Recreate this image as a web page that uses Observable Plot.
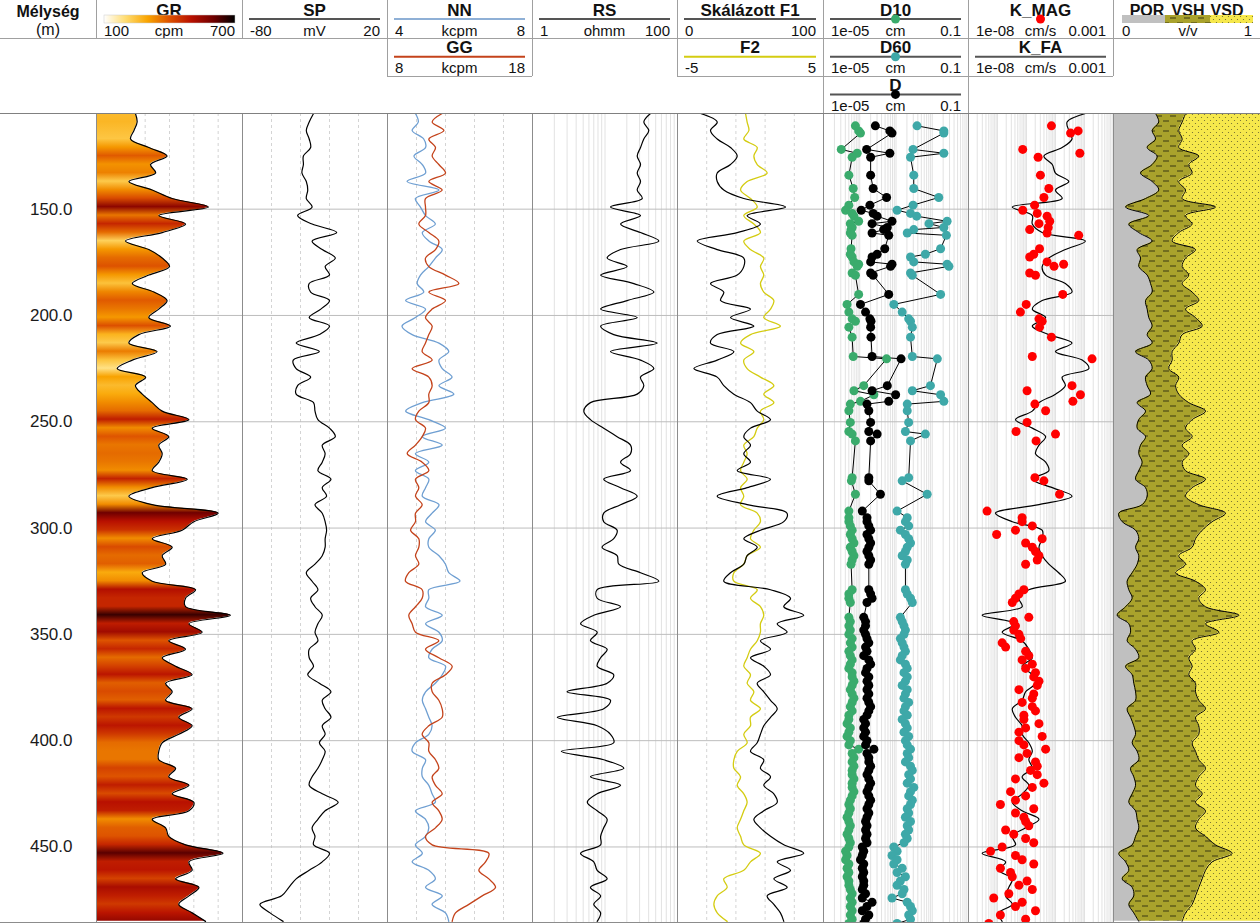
<!DOCTYPE html>
<html><head><meta charset="utf-8">
<script src="https://cdn.jsdelivr.net/npm/d3@7"></script>
<script src="https://cdn.jsdelivr.net/npm/@observablehq/plot@0.6"></script>
<style>
body{margin:0;background:#fff;}
#root{position:relative;width:1260px;height:923px;overflow:hidden;background:#fff;font-family:"Liberation Sans",Arial,sans-serif;}
</style></head><body><div id="root"></div>
<script>
// ---------- continuous logs, sampled every 4 m ----------
const depthM = [
105,109,113,117,121,125,129,133,137,141,145,149,
153,157,161,165,169,173,177,181,185,189,193,197,
201,205,209,213,217,221,225,229,233,237,241,245,
249,253,257,261,265,269,273,277,281,285,289,293,
297,301,305,309,313,317,321,325,329,333,337,341,
345,349,353,357,361,365,369,373,377,381,385,389,
393,397,401,405,409,413,417,421,425,429,433,437,
441,445,449,453,457,461,465,469,473,477,481,485];
const grCpm = [
260,267,254,240,315,390,322,343,233,329,411,560,
356,466,370,219,315,370,400,315,247,336,390,356,
315,404,274,233,349,247,185,302,260,288,329,370,
480,329,397,356,370,356,329,473,329,233,329,600,
500,452,329,411,370,384,288,329,507,466,466,650,
480,534,397,466,370,425,493,384,411,384,493,438,
493,438,370,356,356,425,397,480,411,500,480,329,
384,397,466,620,480,493,425,521,480,438,493,548];
const spMv = [
-31,-34,-36,-34,-33,-38,-38,-39,-36,-35,-36,-32,
-42,-32,-15,-32,-25,-16,-23,-20,-34,-33,-20,-26,
-34,-20,-27,-43,-27,-45,-43,-33,-42,-43,-31,-30,
-28,-20,-16,-25,-23,-25,-28,-19,-25,-22,-30,-25,
-23,-22,-23,-23,-25,-30,-36,-32,-28,-33,-30,-25,
-28,-30,-28,-34,-34,-31,-35,-27,-19,-25,-23,-19,
-25,-23,-27,-23,-25,-28,-32,-34,-25,-14,-23,-28,
-32,-30,-31,-20,-25,-34,-43,-48,-53,-68,-61,-52];
const nnKcpm = [
4.77,4.85,4.68,5.00,5.05,4.73,4.96,5.05,4.54,5.42,4.77,4.91,
5.05,5.32,4.96,5.14,5.51,5.32,5.14,4.91,4.82,5.00,4.50,5.05,
4.77,4.40,4.68,5.42,5.69,5.42,5.51,5.78,5.42,5.83,4.96,4.50,
5.14,5.60,4.96,5.51,4.77,5.14,4.77,5.14,5.05,4.96,5.42,5.23,
5.05,5.32,5.14,5.14,5.42,5.60,5.69,6.00,5.14,5.14,5.05,5.51,
5.05,5.42,5.51,5.23,5.14,5.60,5.51,5.32,5.05,4.96,5.05,5.14,
5.23,5.14,4.77,4.68,5.05,4.96,4.96,5.14,5.23,5.32,4.77,5.05,
5.14,5.05,4.77,4.96,4.68,5.14,5.32,5.05,5.51,5.23,5.60,5.69];
const ggKcpm = [
11.77,11.08,11.89,10.85,11.31,11.08,11.54,12.00,10.85,11.77,10.62,10.62,
10.62,10.16,10.85,11.54,11.31,10.62,10.85,12.00,12.92,10.85,12.00,11.08,
10.62,11.08,10.85,10.62,10.39,11.08,9.70,10.85,11.08,10.85,10.85,10.16,
9.93,10.62,10.39,9.93,9.36,10.39,10.85,9.93,10.16,9.93,10.39,9.93,
9.93,9.59,10.16,10.16,9.93,10.16,9.47,9.24,10.39,10.39,9.93,9.47,
9.70,9.93,11.54,10.62,11.54,12.46,12.00,11.08,11.08,11.54,11.77,11.77,
10.85,10.39,10.85,10.85,11.31,11.54,11.08,11.31,11.77,11.08,11.54,11.77,
11.31,10.62,11.08,14.99,14.76,14.30,14.99,15.45,14.53,13.61,12.69,12.46];
const rsOhmm = [
42.4,34.3,40.2,34.3,30.9,27.8,30.9,27.8,30.9,27.8,32.6,11.9,
30.9,16.4,30.9,55.3,16.4,10.7,20.2,8.7,25.0,47.2,20.2,8.7,
27.8,8.7,13.2,52.5,11.9,30.9,47.2,30.9,34.3,27.8,6.3,5.1,
6.3,9.6,14.7,22.5,22.5,16.4,22.5,9.6,16.4,27.8,16.4,9.6,
9.6,14.7,13.2,9.1,14.7,15.5,30.9,55.3,7.8,7.8,16.4,7.0,
4.6,7.8,6.3,10.7,8.7,7.8,13.2,10.7,3.0,11.9,9.6,2.2,
7.8,11.9,13.2,2.5,9.6,18.2,6.3,16.4,7.8,5.7,7.8,10.7,
9.6,8.7,8.7,4.6,7.0,7.8,10.7,6.3,8.7,7.0,8.7,7.8];
const f1Scaled = [
15.8,27.2,22.6,27.2,36.3,40.9,36.3,27.2,27.2,31.7,45.4,74.0,
47.7,56.8,40.9,13.5,27.2,45.4,45.4,40.9,22.6,31.7,29.5,50.0,
36.3,52.3,27.2,22.6,38.6,27.2,11.2,27.2,31.7,38.6,50.0,54.6,
63.7,50.0,45.4,50.0,45.4,50.0,40.9,63.7,47.7,27.2,47.7,75.0,
72.8,56.8,45.4,54.6,47.7,45.4,36.3,31.7,63.7,77.4,72.8,86.5,
68.3,75.1,56.8,63.7,50.0,59.1,63.7,54.6,59.1,63.7,68.3,63.7,
59.1,56.8,54.6,50.0,59.1,56.8,63.7,59.1,66.0,68.3,59.1,52.3,
56.8,63.7,72.8,86.5,68.3,77.4,66.0,75.1,61.4,66.0,70.5,72.8];
const f2Val = [
-0.34,-0.23,-0.11,-0.46,0.46,0.23,0.46,1.14,-0.23,-0.68,0.00,0.46,
-0.46,0.23,0.68,-0.46,0.00,0.91,0.68,0.91,0.68,0.91,1.60,1.37,
0.91,2.05,0.00,-0.68,0.23,-0.46,-0.23,0.68,1.60,0.91,1.60,0.68,
0.91,0.46,0.23,-0.46,-0.23,-0.46,-0.68,-0.23,-0.68,-0.46,-0.68,0.46,
0.68,0.23,0.00,0.68,-0.23,-0.46,-1.14,-1.14,0.46,0.00,0.68,0.91,
0.68,0.68,0.46,0.00,-0.23,-0.46,0.00,-0.23,0.23,0.00,0.68,0.00,
0.00,-0.46,-0.23,-0.91,-1.14,-1.14,-0.68,-0.91,-0.46,-0.23,-0.46,-0.68,
-0.91,-0.68,-0.46,0.68,0.00,-0.46,-1.83,-1.60,-2.28,-2.51,-2.28,-1.60];
// K_FA as log10(cm/s)
const kfaLog10 = [
-3.97,-4.60,-4.54,-4.43,-4.77,-5.40,-5.11,-5.00,-4.54,-5.00,-4.77,-6.49,
-5.80,-5.80,-5.46,-3.97,-4.66,-5.23,-5.46,-5.34,-4.66,-4.43,-5.46,-5.80,
-5.34,-5.80,-5.23,-4.43,-5.00,-4.08,-3.85,-4.77,-4.66,-5.00,-5.57,-5.80,
-6.38,-5.80,-5.34,-5.57,-5.69,-5.34,-5.23,-5.80,-5.11,-4.43,-5.57,-7.07,
-6.49,-5.46,-5.46,-5.57,-5.46,-5.23,-4.89,-4.66,-5.92,-6.26,-6.15,-7.53,
-6.38,-6.84,-6.15,-5.92,-5.80,-6.15,-5.80,-5.69,-6.03,-6.15,-6.49,-6.38,
-6.15,-6.15,-5.92,-5.80,-5.92,-5.80,-6.15,-5.92,-6.15,-6.49,-6.15,-5.57,
-6.03,-6.49,-6.38,-7.53,-6.72,-6.95,-6.49,-6.61,-6.72,-6.49,-6.95,-6.84];
const porVv = [
0.286,0.308,0.263,0.286,0.229,0.297,0.263,0.184,0.263,0.308,0.218,0.082,
0.240,0.104,0.172,0.263,0.161,0.184,0.172,0.229,0.252,0.263,0.218,0.229,
0.240,0.263,0.229,0.263,0.150,0.240,0.263,0.218,0.229,0.252,0.161,0.218,
0.172,0.161,0.218,0.184,0.172,0.195,0.172,0.150,0.218,0.229,0.195,0.036,
0.059,0.150,0.172,0.150,0.172,0.161,0.127,0.093,0.104,0.127,0.082,0.025,
0.104,0.116,0.093,0.150,0.172,0.082,0.127,0.138,0.150,0.150,0.093,0.116,
0.138,0.150,0.127,0.161,0.172,0.116,0.138,0.150,0.127,0.104,0.150,0.161,
0.172,0.150,0.127,0.036,0.082,0.104,0.059,0.127,0.138,0.104,0.138,0.172];
const vshVv = [
0.204,0.159,0.181,0.181,0.215,0.283,0.249,0.351,0.181,0.182,0.249,0.612,
0.250,0.431,0.272,0.136,0.397,0.306,0.295,0.283,0.215,0.272,0.362,0.261,
0.318,0.340,0.238,0.181,0.249,0.159,0.113,0.226,0.193,0.192,0.351,0.408,
0.363,0.329,0.317,0.283,0.340,0.272,0.318,0.476,0.317,0.261,0.385,0.726,
0.612,0.453,0.386,0.385,0.272,0.329,0.295,0.465,0.522,0.453,0.544,0.828,
0.522,0.601,0.442,0.408,0.340,0.453,0.385,0.420,0.408,0.430,0.533,0.442,
0.442,0.430,0.408,0.397,0.408,0.510,0.442,0.408,0.476,0.454,0.476,0.419,
0.386,0.476,0.567,0.771,0.589,0.522,0.544,0.453,0.420,0.431,0.352,0.295];

// ---------- core samples (grain size & K_MAG) ----------
const sampleDepth = [
110.8,113.2,114.2,121.9,123.7,125.6,134.0,140.3,144.5,148.1,
150.5,152.0,153.3,155.7,156.8,158.6,159.6,161.2,162.3,168.6,
171.2,172.5,174.8,175.9,176.9,180.0,181.1,190.1,194.8,198.4,
201.6,202.7,205.5,210.2,219.3,220.4,233.0,235.4,237.3,240.4,
241.7,244.8,250.3,254.6,255.8,259.0,276.3,277.8,284.1,292.0,
295.1,
297,299,301,303,305,307,309,311,313,315,317,
329,331,333,335,
342,344,346,348,
350,352,354,356,358,360,362,364,366,368,
370,372,374,376,378,380,382,384,386,388,
390,392,394,396,398,400,402,404,406,408,
410,412,414,416,418,420,422,424,426,428,
430,432,434,436,438,440,442,444,446,448,
450,452,454,456,458,460,462,464,466,468,
470,472,474,476,478,480,482,484,486];
// log10(cm)
const d10Log10 = [
-4.12,-4.03,-3.98,-4.51,-4.07,-4.21,-4.30,-4.18,-4.14,-4.30,
-4.39,-4.21,-4.16,-4.03,-4.26,-4.21,-4.24,-4.26,-4.21,-4.24,
-4.26,-4.21,-4.16,-4.03,-4.07,-4.21,-4.12,-4.03,-4.35,-4.30,
-4.21,-4.12,-4.30,-4.21,-4.18,-3.26,-3.89,-4.16,-3.61,-3.98,
-4.26,-4.30,-4.26,-4.30,-4.21,-4.12,-4.21,-4.23,-4.12,-4.30,
-4.30,
-4.30,-4.26,-4.21,-4.26,-4.21,-4.16,-4.26,-4.21,-4.16,-4.21,-4.24,
-4.21,-4.30,-4.30,-4.26,
-4.30,-4.26,-4.30,-4.26,
-4.30,-4.21,-4.26,-4.21,-4.30,-4.26,-4.21,-4.26,-4.30,-4.21,
-4.21,-4.16,-4.21,-4.26,-4.21,-4.16,-4.21,-4.26,-4.21,-4.30,
-4.30,-4.35,-4.26,-4.30,-4.35,-4.26,-4.30,-4.03,-4.21,-4.16,
-4.21,-4.16,-4.21,-4.21,-4.16,-4.21,-4.21,-4.16,-4.21,-4.26,
-4.30,-4.26,-4.30,-4.35,-4.30,-4.26,-4.30,-4.35,-4.30,-4.26,
-4.30,-4.39,-4.35,-4.39,-4.30,-4.35,-4.30,-4.35,-4.30,-4.30,
-4.26,-4.21,-4.26,-4.21,-4.26,-4.21,-4.26,-4.21,-4.30];
const d60Log10 = [
-2.42,-1.68,-1.68,-2.53,-1.68,-2.60,-2.51,-2.51,-1.82,-2.53,
-2.97,-2.60,-2.43,-1.59,-2.09,-1.68,-2.51,-2.69,-1.61,-1.77,
-2.19,-2.60,-2.51,-1.59,-1.54,-2.60,-2.55,-1.77,-3.06,-2.83,
-2.65,-2.60,-2.55,-2.60,-2.55,-1.86,-2.05,-2.55,-1.77,-1.68,
-2.69,-2.69,-2.65,-2.74,-2.19,-2.60,-2.65,-2.83,-2.14,-2.97,
-2.69,
-2.74,-2.65,-2.88,-2.74,-2.65,-2.60,-2.69,-2.74,-2.83,-2.69,-2.74,
-2.74,-2.69,-2.60,-2.55,
-2.88,-2.83,-2.78,-2.74,
-2.78,-2.88,-2.83,-2.78,-2.74,-2.83,-2.88,-2.74,-2.69,-2.78,
-2.69,-2.74,-2.83,-2.69,-2.74,-2.78,-2.65,-2.74,-2.78,-2.69,
-2.83,-2.74,-2.69,-2.78,-2.65,-2.74,-2.69,-2.60,-2.69,-2.65,
-2.74,-2.60,-2.55,-2.65,-2.60,-2.69,-2.51,-2.60,-2.65,-2.55,
-2.60,-2.69,-2.65,-2.74,-2.60,-2.69,-2.65,-2.74,-2.69,-2.78,
-3.06,-2.97,-3.11,-2.97,-3.06,-2.83,-2.97,-2.74,-2.88,-2.97,
-2.78,-2.83,-3.11,-2.69,-2.60,-2.55,-2.65,-2.60,-2.97];
const dLog10 = [
-3.57,-3.17,-3.11,-3.81,-3.17,-3.70,-3.70,-3.63,-3.26,-3.72,
-3.96,-3.63,-3.52,-3.11,-3.66,-3.24,-3.34,-3.66,-3.20,-3.31,
-3.52,-3.66,-3.70,-3.11,-3.15,-3.70,-3.63,-3.20,-3.98,-3.84,
-3.72,-3.69,-3.70,-3.69,-3.66,-2.86,-3.24,-3.66,-3.01,-3.20,
-3.80,-3.75,-3.70,-3.75,-3.52,-3.70,-3.75,-3.75,-3.43,-3.93,
-3.80,
-3.80,-3.75,-3.70,-3.80,-3.75,-3.70,-3.75,-3.80,-3.75,-3.70,-3.75,
-3.75,-3.70,-3.66,-3.80,
-3.89,-3.84,-3.84,-3.89,
-3.84,-3.80,-3.75,-3.84,-3.80,-3.89,-3.75,-3.70,-3.80,-3.84,
-3.75,-3.80,-3.75,-3.80,-3.75,-3.80,-3.75,-3.70,-3.75,-3.80,
-3.89,-3.84,-3.89,-3.84,-3.89,-3.80,-3.84,-3.61,-3.80,-3.75,
-3.75,-3.70,-3.75,-3.80,-3.75,-3.70,-3.75,-3.80,-3.75,-3.70,
-3.75,-3.80,-3.75,-3.80,-3.84,-3.80,-3.84,-3.80,-3.84,-3.80,
-3.93,-3.89,-3.93,-3.98,-3.89,-3.93,-3.89,-3.93,-3.89,-3.89,
-3.93,-3.84,-3.93,-3.66,-3.80,-3.93,-3.75,-3.84,-3.89];
// log10(cm/s)
const kmagLog10 = [
-5.14,-4.22,-4.48,-6.13,-4.16,-5.60,-5.52,-5.23,-5.40,-5.72,
-6.13,-5.63,-5.29,-5.20,-5.57,-5.25,-5.89,-5.29,-4.20,-5.55,
-5.75,-5.89,-5.29,-4.72,-5.05,-5.89,-5.69,-4.75,-6.01,-6.21,
-5.57,-5.46,-5.55,-5.14,-5.80,-3.74,-4.43,-5.98,-4.14,-4.40,
-5.71,-5.34,-5.98,-6.36,-5.00,-5.67,-5.71,-5.40,-4.86,-7.36,
-6.15,
-6.15,-5.80,-6.38,-7.03,-5.46,-6.03,-5.80,-5.69,-5.57,-5.63,-6.03,
-6.09,-6.26,-6.38,-6.49,
-5.92,-6.44,-6.38,-6.44,
-6.26,-6.20,-6.84,-6.72,-6.03,-5.92,-6.15,-5.80,-6.03,-5.69,
-5.75,-5.57,-5.63,-6.26,-5.75,-5.80,-6.15,-5.80,-5.69,-6.09,
-6.09,-5.57,-6.03,-6.26,-5.46,-6.26,-6.09,-5.34,-5.98,-6.26,
-5.69,-5.63,-5.86,-5.63,-6.38,-5.40,-5.80,-6.55,-6.03,-6.38,
-6.90,-5.75,-6.38,-6.09,-6.03,-5.92,-6.72,-6.44,-6.03,-5.75,
-6.84,-7.24,-6.38,-6.15,-5.75,-6.90,-6.55,-6.49,-5.98,-6.26,
-5.80,-6.61,-7.13,-6.15,-6.38,-5.69,-6.90,-6.03,-7.30];

const depthTicks = [150, 200, 250, 300, 350, 400, 450];
const grStops = [100, 200, 300, 400, 500, 600, 700];
const grColors = ["#ffffff", "#ffdc70", "#f9a400", "#dd5200", "#b81000", "#700000", "#000000"];

// ---------- build tables ----------
const logs = depthM.map((d, i) => ({
  depth: d, gr: grCpm[i], sp: spMv[i], nn: nnKcpm[i], gg: ggKcpm[i], rs: rsOhmm[i],
  f1: f1Scaled[i], f2: f2Val[i], kfa: 10 ** kfaLog10[i],
  por: porVv[i], vsh: vshVv[i], shTop: porVv[i] + vshVv[i]
}));
const samples = sampleDepth.map((d, i) => ({
  depth: d, d10: 10 ** d10Log10[i], d60: 10 ** d60Log10[i], dd: 10 ** dLog10[i], kmag: 10 ** kmagLog10[i]
}));

const FONT = '"Liberation Sans", Arial, sans-serif';
const CURVE = "catmull-rom";
const root = document.getElementById("root");
const TOP = 113, H = 810;
const Y = {domain: [105, 486], range: [0, H], axis: null};
const grColor = d3.scaleLinear().domain(grStops).range(grColors).clamp(true);

function place(svg, left, width) {
  svg.style.position = "absolute";
  svg.style.left = left + "px";
  svg.style.top = TOP + "px";
  svg.style.width = width + "px";
  svg.style.height = H + "px";
  svg.style.maxWidth = "none";
  root.appendChild(svg);
  return svg;
}
function track(left, width, x, marks) {
  const svg = Plot.plot({
    width, height: H, margin: 0,
    x: {...x, axis: null}, y: Y,
    style: {background: "transparent", overflow: "hidden", fontFamily: FONT},
    marks
  });
  return place(svg, left, width);
}
const hgrid = () => Plot.ruleY(depthTicks, {stroke: "#bdbdbd", strokeWidth: 1});
const vgrid = (v) => Plot.ruleX(v, {stroke: "#d4d4d4", strokeDasharray: "3,3", strokeWidth: 1});
function logMinor(e0, e1) {
  const t = [];
  for (let e = e0; e < e1; e++) for (let k = 1; k < 10; k++) if (!(e === e0 && k === 1)) t.push(k * 10 ** e);
  return t;
}
const lgrid = (v) => Plot.ruleX(v, {stroke: "#e2e2e2", strokeWidth: 1});
function addDefs(svg, html) {
  const defs = document.createElementNS("http://www.w3.org/2000/svg", "defs");
  defs.innerHTML = html;
  svg.insertBefore(defs, svg.firstChild);
}
const patDefs = (p) => `
<pattern id="${p}vsh" patternUnits="userSpaceOnUse" width="14" height="10"><rect width="14" height="10" fill="#a9a22c"/><path d="M1 3h6M8 8h6" stroke="#3a3812" stroke-width="1"/></pattern>
<pattern id="${p}vsd" patternUnits="userSpaceOnUse" width="6" height="6"><rect width="6" height="6" fill="#f6e84c"/><circle cx="1.5" cy="1.5" r="0.6" fill="#6b6630"/><circle cx="4.5" cy="4.5" r="0.6" fill="#6b6630"/></pattern>`;

// ---------- depth labels ----------
place(Plot.plot({
  width: 96, height: H, margin: 0, y: Y,
  style: {background: "transparent", overflow: "visible", fontFamily: FONT},
  marks: [Plot.text(depthTicks, {y: d => d, text: d => d.toFixed(1), frameAnchor: "right", textAnchor: "end", dx: -24, fontSize: 17, fill: "#1a1a1a"})]
}), 0, 96);

// ---------- GR ----------
const grSvg = track(96, 146, {domain: [100, 700]}, [
  vgrid([200, 300, 400, 500, 600]), hgrid(),
  Plot.areaX(logs, {y: "depth", x1: () => 100, x2: "gr", fill: "#f0a001", curve: CURVE}),
  Plot.lineX(logs, {y: "depth", x: "gr", stroke: "#000", strokeWidth: 1.2, curve: CURVE})
]);
{
  const ys = grSvg.scale("y");
  const stops = logs.map(r => `<stop offset="${(ys.apply(r.depth) / H).toFixed(4)}" stop-color="${grColor(r.gr)}"/>`).join("");
  addDefs(grSvg, `<linearGradient id="grGrad" gradientUnits="userSpaceOnUse" x1="0" y1="0" x2="0" y2="${H}">${stops}</linearGradient>`);
  d3.select(grSvg).selectAll('[fill="#f0a001"]').attr("fill", "url(#grGrad)");
}

// ---------- SP ----------
track(242, 145, {domain: [-80, 20]}, [
  vgrid([-60, -40, -20, 0]), hgrid(),
  Plot.lineX(logs, {y: "depth", x: "sp", stroke: "#000", strokeWidth: 1.2, curve: CURVE})
]);

// ---------- NN / GG ----------
track(387, 145, {domain: [4, 8]}, [
  vgrid([4.8, 5.6, 6.4, 7.2]), hgrid(),
  Plot.lineX(logs, {y: "depth", x: "nn", stroke: "#6f9fd2", strokeWidth: 1.3, curve: CURVE})
]);
track(387, 145, {domain: [8, 18]}, [
  Plot.lineX(logs, {y: "depth", x: "gg", stroke: "#c4431b", strokeWidth: 1.3, curve: CURVE})
]);

// ---------- RS ----------
track(532, 145, {type: "log", domain: [1, 100]}, [
  lgrid(logMinor(0, 2)), hgrid(),
  Plot.lineX(logs, {y: "depth", x: "rs", stroke: "#000", strokeWidth: 1.2, curve: CURVE})
]);

// ---------- F1 / F2 ----------
track(677, 146, {domain: [-5, 5]}, [
  vgrid([-3, -1, 1, 3]), hgrid(),
  Plot.lineX(logs, {y: "depth", x: "f2", stroke: "#d4cc12", strokeWidth: 1.3, curve: CURVE})
]);
track(677, 146, {domain: [0, 100]}, [
  Plot.lineX(logs, {y: "depth", x: "f1", stroke: "#000", strokeWidth: 1.2, curve: CURVE})
]);

// ---------- D10 / D60 / D ----------
track(823, 145, {type: "log", domain: [1e-5, 0.1]}, [
  lgrid(logMinor(-5, -1)), hgrid(),
  Plot.line(samples, {y: "depth", x: "d10", stroke: "#000", strokeWidth: 1}),
  Plot.line(samples, {y: "depth", x: "dd", stroke: "#000", strokeWidth: 1}),
  Plot.line(samples, {y: "depth", x: "d60", stroke: "#000", strokeWidth: 1}),
  Plot.dot(samples, {y: "depth", x: "d10", fill: "#3aab6c", r: 4.5}),
  Plot.dot(samples, {y: "depth", x: "dd", fill: "#000", r: 4.5}),
  Plot.dot(samples, {y: "depth", x: "d60", fill: "#3ea8a8", r: 4.5})
]);

// ---------- K_MAG / K_FA ----------
track(968, 145, {type: "log", domain: [1e-8, 1e-3]}, [
  lgrid(logMinor(-8, -3)), hgrid(),
  Plot.lineX(logs, {y: "depth", x: "kfa", stroke: "#000", strokeWidth: 1.2, curve: CURVE}),
  Plot.dot(samples, {y: "depth", x: "kmag", fill: "#ff0000", r: 4.5})
]);

// ---------- POR / VSH / VSD ----------
const porSvg = track(1113, 147, {domain: [0, 1]}, [
  Plot.areaX(logs, {y: "depth", x1: () => 0, x2: "por", fill: "#c0c0c0", curve: CURVE}),
  Plot.areaX(logs, {y: "depth", x1: "por", x2: "shTop", fill: "#a9a22d", curve: CURVE}),
  Plot.areaX(logs, {y: "depth", x1: "shTop", x2: () => 1, fill: "#f6e84d", curve: CURVE}),
  Plot.lineX(logs, {y: "depth", x: "por", stroke: "#000", strokeWidth: 1, curve: CURVE}),
  Plot.lineX(logs, {y: "depth", x: "shTop", stroke: "#000", strokeWidth: 1, curve: CURVE})
]);
addDefs(porSvg, patDefs("t"));
d3.select(porSvg).selectAll('[fill="#a9a22d"]').attr("fill", "url(#tvsh)");
d3.select(porSvg).selectAll('[fill="#f6e84d"]').attr("fill", "url(#tvsd)");

// ---------- header ----------
const hdr = d3.select(root).append("svg").attr("width", 1260).attr("height", 124)
  .style("position", "absolute").style("left", "0px").style("top", "0px").style("font-family", FONT)
  .style("overflow", "visible");
addDefs(hdr.node(), patDefs("h") + `<linearGradient id="grBar" x1="0" x2="1" y1="0" y2="0">${
  grStops.map((v, i) => `<stop offset="${i / 6}" stop-color="${grColors[i]}"/>`).join("")}</linearGradient>`);
function txt(x, y, s, anchor = "middle", bold = false, size = 15) {
  hdr.append("text").attr("x", x).attr("y", y).attr("text-anchor", anchor).attr("dominant-baseline", "central")
    .attr("font-size", size).attr("font-weight", bold ? "bold" : "normal").attr("fill", "#111").text(s);
}
txt(48, 11, "Mélység", "middle", true, 16);
txt(48, 29, "(m)", "middle", false, 16);
const headers = [
  {x0: 96, x1: 242, row: 0, title: "GR", bar: true, l: "100", u: "cpm", r: "700"},
  {x0: 242, x1: 387, row: 0, title: "SP", line: "#555", l: "-80", u: "mV", r: "20"},
  {x0: 387, x1: 532, row: 0, title: "NN", line: "#8fb0d6", l: "4", u: "kcpm", r: "8"},
  {x0: 387, x1: 532, row: 1, title: "GG", line: "#c4431b", l: "8", u: "kcpm", r: "18"},
  {x0: 532, x1: 677, row: 0, title: "RS", line: "#555", l: "1", u: "ohmm", r: "100"},
  {x0: 677, x1: 823, row: 0, title: "Skálázott F1", line: "#555", l: "0", u: "", r: "100"},
  {x0: 677, x1: 823, row: 1, title: "F2", line: "#d4cc12", l: "-5", u: "", r: "5"},
  {x0: 823, x1: 968, row: 0, title: "D10", line: "#555", dot: "#3aab6c", l: "1e-05", u: "cm", r: "0.1"},
  {x0: 823, x1: 968, row: 1, title: "D60", line: "#555", dot: "#3ea8a8", l: "1e-05", u: "cm", r: "0.1"},
  {x0: 823, x1: 968, row: 2, title: "D", line: "#555", dot: "#000", l: "1e-05", u: "cm", r: "0.1"},
  {x0: 968, x1: 1113, row: 0, title: "K_MAG", dot: "#ff0000", l: "1e-08", u: "cm/s", r: "0.001"},
  {x0: 968, x1: 1113, row: 1, title: "K_FA", line: "#555", l: "1e-08", u: "cm/s", r: "0.001"}
];
for (const h of headers) {
  const oy = h.row * 37.7, cx = (h.x0 + h.x1) / 2;
  txt(cx, oy + 10, h.title, "middle", true, 17);
  if (h.bar) hdr.append("rect").attr("x", 104).attr("y", oy + 15).attr("width", 131).attr("height", 8).attr("fill", "url(#grBar)").attr("stroke", "#ccc").attr("stroke-width", 0.5);
  if (h.line) hdr.append("line").attr("x1", h.x0 + 7).attr("x2", h.x1 - 7).attr("y1", oy + 19).attr("y2", oy + 19).attr("stroke", h.line).attr("stroke-width", 2);
  if (h.dot) hdr.append("circle").attr("cx", cx).attr("cy", oy + 19).attr("r", 4.5).attr("fill", h.dot);
  txt(h.x0 + 8, oy + 30, h.l, "start");
  if (h.u) txt(cx, oy + 30, h.u, "middle");
  txt(h.x1 - 7, oy + 30, h.r, "end");
}
txt(1147, 10, "POR", "middle", true, 16);
txt(1188, 10, "VSH", "middle", true, 16);
txt(1227, 10, "VSD", "middle", true, 16);
hdr.append("rect").attr("x", 1122).attr("y", 15).attr("width", 43).attr("height", 8).attr("fill", "#c0c0c0");
hdr.append("rect").attr("x", 1165).attr("y", 15).attr("width", 45).attr("height", 8).attr("fill", "url(#hvsh)");
hdr.append("rect").attr("x", 1210).attr("y", 15).attr("width", 43).attr("height", 8).attr("fill", "url(#hvsd)");
txt(1122, 30, "0", "start");
txt(1188, 30, "v/v", "middle");
txt(1252, 30, "1", "end");

// ---------- frame lines ----------
const ov = d3.select(root).append("svg").attr("width", 1260).attr("height", 923)
  .style("position", "absolute").style("left", "0px").style("top", "0px").style("pointer-events", "none");
function ln(x1, y1, x2, y2, c = "#a0a0a0") {
  ov.append("line").attr("x1", x1).attr("y1", y1).attr("x2", x2).attr("y2", y2)
    .attr("stroke", c).attr("stroke-width", 1).attr("shape-rendering", "crispEdges");
}
const seps = [96, 242, 387, 532, 677, 823, 968, 1113];
for (const x of seps) { ln(x + 0.5, 113, x + 0.5, 923, "#8c8c8c"); ln(x + 0.5, 0, x + 0.5, 38); }
ln(0, 38.5, 1260, 38.5);
for (const x of [387, 532, 677, 823, 968, 1113]) ln(x + 0.5, 38, x + 0.5, 76);
ln(387, 76.5, 532, 76.5); ln(677, 76.5, 823, 76.5); ln(823, 76.5, 1113, 76.5);
ln(823.5, 76, 823.5, 113); ln(968.5, 76, 968.5, 113);
ln(0, 113.5, 1260, 113.5, "#808080");
ln(0, 922.5, 1260, 922.5, "#8c8c8c");
</script></body></html>
